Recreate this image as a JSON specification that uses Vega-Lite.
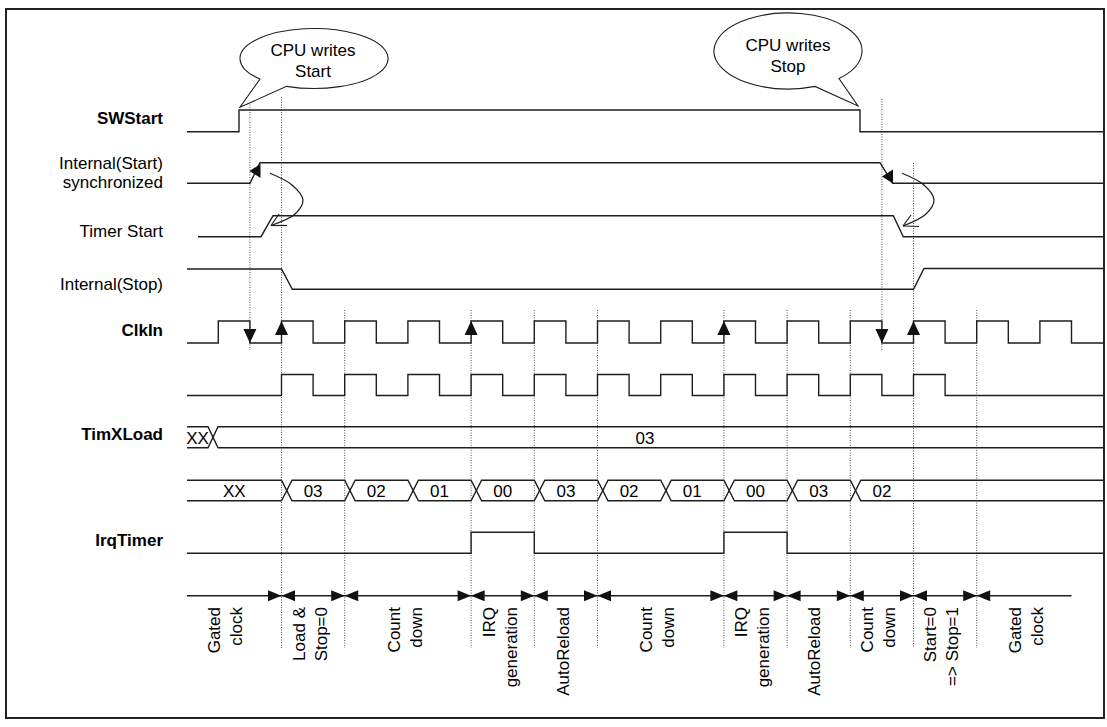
{
  "$schema": "https://vega.github.io/schema/vega-lite/v6.json",
  "width": 1107,
  "height": 727,
  "padding": 0,
  "autosize": {"type": "none"},
  "background": "white",
  "config": {"view": {"stroke": null}},
  "resolve": {"scale": {"shape": "independent"}},
  "datasets": {
    "frame": [{"x": 6, "y": 9, "x2": 1104, "y2": 718}],
    "dots": [
      {"x": 249.9, "y": 97, "y2": 350},
      {"x": 281.5, "y": 97, "y2": 648},
      {"x": 344.7, "y": 310, "y2": 648},
      {"x": 471.1, "y": 310, "y2": 648},
      {"x": 534.3, "y": 310, "y2": 648},
      {"x": 597.5, "y": 310, "y2": 648},
      {"x": 723.9, "y": 310, "y2": 648},
      {"x": 787.1, "y": 310, "y2": 648},
      {"x": 850.3, "y": 310, "y2": 648},
      {"x": 881.9, "y": 99, "y2": 350},
      {"x": 913.5, "y": 163, "y2": 648},
      {"x": 976.7, "y": 310, "y2": 648}
    ],
    "waves": [
      {"s": "SWStart", "x": 187, "y": 131.7}, {"s": "SWStart", "x": 239, "y": 131.7}, {"s": "SWStart", "x": 239, "y": 110}, {"s": "SWStart", "x": 860, "y": 110}, {"s": "SWStart", "x": 860, "y": 131.7}, {"s": "SWStart", "x": 1103, "y": 131.7},
      {"s": "IntStart", "x": 187, "y": 183.3}, {"s": "IntStart", "x": 250, "y": 183.3}, {"s": "IntStart", "x": 260, "y": 162.7}, {"s": "IntStart", "x": 880, "y": 162.7}, {"s": "IntStart", "x": 892.7, "y": 183.3}, {"s": "IntStart", "x": 1103, "y": 183.3},
      {"s": "TimerStart", "x": 198, "y": 236.7}, {"s": "TimerStart", "x": 261, "y": 236.7}, {"s": "TimerStart", "x": 273, "y": 215.7}, {"s": "TimerStart", "x": 893.3, "y": 215.7}, {"s": "TimerStart", "x": 903.3, "y": 236.7}, {"s": "TimerStart", "x": 1103, "y": 236.7},
      {"s": "IntStop", "x": 187, "y": 269}, {"s": "IntStop", "x": 281.5, "y": 269}, {"s": "IntStop", "x": 292.3, "y": 289.3}, {"s": "IntStop", "x": 913.5, "y": 289.3}, {"s": "IntStop", "x": 924, "y": 268.5}, {"s": "IntStop", "x": 1103, "y": 268.5},
      {"s": "ClkIn", "x": 187, "y": 343}, {"s": "ClkIn", "x": 218.3, "y": 343}, {"s": "ClkIn", "x": 218.3, "y": 321}, {"s": "ClkIn", "x": 249.9, "y": 321}, {"s": "ClkIn", "x": 249.9, "y": 343},
      {"s": "ClkIn", "x": 281.5, "y": 343}, {"s": "ClkIn", "x": 281.5, "y": 321}, {"s": "ClkIn", "x": 313.1, "y": 321}, {"s": "ClkIn", "x": 313.1, "y": 343},
      {"s": "ClkIn", "x": 344.7, "y": 343}, {"s": "ClkIn", "x": 344.7, "y": 321}, {"s": "ClkIn", "x": 376.3, "y": 321}, {"s": "ClkIn", "x": 376.3, "y": 343},
      {"s": "ClkIn", "x": 407.9, "y": 343}, {"s": "ClkIn", "x": 407.9, "y": 321}, {"s": "ClkIn", "x": 439.5, "y": 321}, {"s": "ClkIn", "x": 439.5, "y": 343},
      {"s": "ClkIn", "x": 471.1, "y": 343}, {"s": "ClkIn", "x": 471.1, "y": 321}, {"s": "ClkIn", "x": 502.7, "y": 321}, {"s": "ClkIn", "x": 502.7, "y": 343},
      {"s": "ClkIn", "x": 534.3, "y": 343}, {"s": "ClkIn", "x": 534.3, "y": 321}, {"s": "ClkIn", "x": 565.9, "y": 321}, {"s": "ClkIn", "x": 565.9, "y": 343},
      {"s": "ClkIn", "x": 597.5, "y": 343}, {"s": "ClkIn", "x": 597.5, "y": 321}, {"s": "ClkIn", "x": 629.1, "y": 321}, {"s": "ClkIn", "x": 629.1, "y": 343},
      {"s": "ClkIn", "x": 660.7, "y": 343}, {"s": "ClkIn", "x": 660.7, "y": 321}, {"s": "ClkIn", "x": 692.3, "y": 321}, {"s": "ClkIn", "x": 692.3, "y": 343},
      {"s": "ClkIn", "x": 723.9, "y": 343}, {"s": "ClkIn", "x": 723.9, "y": 321}, {"s": "ClkIn", "x": 755.5, "y": 321}, {"s": "ClkIn", "x": 755.5, "y": 343},
      {"s": "ClkIn", "x": 787.1, "y": 343}, {"s": "ClkIn", "x": 787.1, "y": 321}, {"s": "ClkIn", "x": 818.7, "y": 321}, {"s": "ClkIn", "x": 818.7, "y": 343},
      {"s": "ClkIn", "x": 850.3, "y": 343}, {"s": "ClkIn", "x": 850.3, "y": 321}, {"s": "ClkIn", "x": 881.9, "y": 321}, {"s": "ClkIn", "x": 881.9, "y": 343},
      {"s": "ClkIn", "x": 913.5, "y": 343}, {"s": "ClkIn", "x": 913.5, "y": 321}, {"s": "ClkIn", "x": 945.1, "y": 321}, {"s": "ClkIn", "x": 945.1, "y": 343},
      {"s": "ClkIn", "x": 976.7, "y": 343}, {"s": "ClkIn", "x": 976.7, "y": 321}, {"s": "ClkIn", "x": 1008.3, "y": 321}, {"s": "ClkIn", "x": 1008.3, "y": 343},
      {"s": "ClkIn", "x": 1039.9, "y": 343}, {"s": "ClkIn", "x": 1039.9, "y": 321}, {"s": "ClkIn", "x": 1071.5, "y": 321}, {"s": "ClkIn", "x": 1071.5, "y": 343}, {"s": "ClkIn", "x": 1103, "y": 343},
      {"s": "Gated", "x": 187, "y": 395.5},
      {"s": "Gated", "x": 281.5, "y": 395.5}, {"s": "Gated", "x": 281.5, "y": 374.5}, {"s": "Gated", "x": 313.1, "y": 374.5}, {"s": "Gated", "x": 313.1, "y": 395.5},
      {"s": "Gated", "x": 344.7, "y": 395.5}, {"s": "Gated", "x": 344.7, "y": 374.5}, {"s": "Gated", "x": 376.3, "y": 374.5}, {"s": "Gated", "x": 376.3, "y": 395.5},
      {"s": "Gated", "x": 407.9, "y": 395.5}, {"s": "Gated", "x": 407.9, "y": 374.5}, {"s": "Gated", "x": 439.5, "y": 374.5}, {"s": "Gated", "x": 439.5, "y": 395.5},
      {"s": "Gated", "x": 471.1, "y": 395.5}, {"s": "Gated", "x": 471.1, "y": 374.5}, {"s": "Gated", "x": 502.7, "y": 374.5}, {"s": "Gated", "x": 502.7, "y": 395.5},
      {"s": "Gated", "x": 534.3, "y": 395.5}, {"s": "Gated", "x": 534.3, "y": 374.5}, {"s": "Gated", "x": 565.9, "y": 374.5}, {"s": "Gated", "x": 565.9, "y": 395.5},
      {"s": "Gated", "x": 597.5, "y": 395.5}, {"s": "Gated", "x": 597.5, "y": 374.5}, {"s": "Gated", "x": 629.1, "y": 374.5}, {"s": "Gated", "x": 629.1, "y": 395.5},
      {"s": "Gated", "x": 660.7, "y": 395.5}, {"s": "Gated", "x": 660.7, "y": 374.5}, {"s": "Gated", "x": 692.3, "y": 374.5}, {"s": "Gated", "x": 692.3, "y": 395.5},
      {"s": "Gated", "x": 723.9, "y": 395.5}, {"s": "Gated", "x": 723.9, "y": 374.5}, {"s": "Gated", "x": 755.5, "y": 374.5}, {"s": "Gated", "x": 755.5, "y": 395.5},
      {"s": "Gated", "x": 787.1, "y": 395.5}, {"s": "Gated", "x": 787.1, "y": 374.5}, {"s": "Gated", "x": 818.7, "y": 374.5}, {"s": "Gated", "x": 818.7, "y": 395.5},
      {"s": "Gated", "x": 850.3, "y": 395.5}, {"s": "Gated", "x": 850.3, "y": 374.5}, {"s": "Gated", "x": 881.9, "y": 374.5}, {"s": "Gated", "x": 881.9, "y": 395.5},
      {"s": "Gated", "x": 913.5, "y": 395.5}, {"s": "Gated", "x": 913.5, "y": 374.5}, {"s": "Gated", "x": 945.1, "y": 374.5}, {"s": "Gated", "x": 945.1, "y": 395.5},
      {"s": "Gated", "x": 1103, "y": 395.5},
      {"s": "LoadA", "x": 187, "y": 426.7}, {"s": "LoadA", "x": 208, "y": 426.7}, {"s": "LoadA", "x": 218, "y": 447.7}, {"s": "LoadA", "x": 1103, "y": 447.7},
      {"s": "LoadB", "x": 187, "y": 447.7}, {"s": "LoadB", "x": 208, "y": 447.7}, {"s": "LoadB", "x": 218, "y": 426.7}, {"s": "LoadB", "x": 1103, "y": 426.7},
      {"s": "CntA", "x": 187, "y": 480.3}, {"s": "CntA", "x": 281.5, "y": 480.3}, {"s": "CntA", "x": 292, "y": 500.7}, {"s": "CntA", "x": 344.7, "y": 500.7}, {"s": "CntA", "x": 355.2, "y": 480.3}, {"s": "CntA", "x": 407.9, "y": 480.3}, {"s": "CntA", "x": 418.4, "y": 500.7}, {"s": "CntA", "x": 471.1, "y": 500.7}, {"s": "CntA", "x": 481.6, "y": 480.3}, {"s": "CntA", "x": 534.3, "y": 480.3}, {"s": "CntA", "x": 544.8, "y": 500.7}, {"s": "CntA", "x": 597.5, "y": 500.7}, {"s": "CntA", "x": 608, "y": 480.3}, {"s": "CntA", "x": 660.7, "y": 480.3}, {"s": "CntA", "x": 671.2, "y": 500.7}, {"s": "CntA", "x": 723.9, "y": 500.7}, {"s": "CntA", "x": 734.4, "y": 480.3}, {"s": "CntA", "x": 787.1, "y": 480.3}, {"s": "CntA", "x": 797.6, "y": 500.7}, {"s": "CntA", "x": 850.3, "y": 500.7}, {"s": "CntA", "x": 860.8, "y": 480.3}, {"s": "CntA", "x": 1103, "y": 480.3},
      {"s": "CntB", "x": 187, "y": 500.7}, {"s": "CntB", "x": 281.5, "y": 500.7}, {"s": "CntB", "x": 292, "y": 480.3}, {"s": "CntB", "x": 344.7, "y": 480.3}, {"s": "CntB", "x": 355.2, "y": 500.7}, {"s": "CntB", "x": 407.9, "y": 500.7}, {"s": "CntB", "x": 418.4, "y": 480.3}, {"s": "CntB", "x": 471.1, "y": 480.3}, {"s": "CntB", "x": 481.6, "y": 500.7}, {"s": "CntB", "x": 534.3, "y": 500.7}, {"s": "CntB", "x": 544.8, "y": 480.3}, {"s": "CntB", "x": 597.5, "y": 480.3}, {"s": "CntB", "x": 608, "y": 500.7}, {"s": "CntB", "x": 660.7, "y": 500.7}, {"s": "CntB", "x": 671.2, "y": 480.3}, {"s": "CntB", "x": 723.9, "y": 480.3}, {"s": "CntB", "x": 734.4, "y": 500.7}, {"s": "CntB", "x": 787.1, "y": 500.7}, {"s": "CntB", "x": 797.6, "y": 480.3}, {"s": "CntB", "x": 850.3, "y": 480.3}, {"s": "CntB", "x": 860.8, "y": 500.7}, {"s": "CntB", "x": 1103, "y": 500.7},
      {"s": "Irq", "x": 187, "y": 553.3}, {"s": "Irq", "x": 471.1, "y": 553.3}, {"s": "Irq", "x": 471.1, "y": 532.3}, {"s": "Irq", "x": 534.3, "y": 532.3}, {"s": "Irq", "x": 534.3, "y": 553.3}, {"s": "Irq", "x": 723.9, "y": 553.3}, {"s": "Irq", "x": 723.9, "y": 532.3}, {"s": "Irq", "x": 787.1, "y": 532.3}, {"s": "Irq", "x": 787.1, "y": 553.3}, {"s": "Irq", "x": 1103, "y": 553.3},
      {"s": "Phase", "x": 187, "y": 595.7}, {"s": "Phase", "x": 1071.5, "y": 595.7}
    ],
    "curves": [
      {"a": "start", "x": 270, "y": 173.3}, {"a": "start", "x": 292, "y": 185}, {"a": "start", "x": 303, "y": 200}, {"a": "start", "x": 295, "y": 214}, {"a": "start", "x": 271, "y": 225.5},
      {"a": "stop", "x": 902, "y": 173.3}, {"a": "stop", "x": 924, "y": 185}, {"a": "stop", "x": 934, "y": 200}, {"a": "stop", "x": 926, "y": 214}, {"a": "stop", "x": 903, "y": 226}
    ],
    "segs": [
      {"x": 271, "y": 225.5, "x2": 279, "y2": 214},
      {"x": 271, "y": 225.5, "x2": 287, "y2": 225.5},
      {"x": 903, "y": 226, "x2": 911, "y2": 215},
      {"x": 903, "y": 226, "x2": 919, "y2": 226.5}
    ],
    "marks": [
      {"k": "up", "x": 281.5, "y": 321}, {"k": "up", "x": 471.1, "y": 321}, {"k": "up", "x": 723.9, "y": 321}, {"k": "up", "x": 913.5, "y": 321},
      {"k": "down", "x": 249.9, "y": 343}, {"k": "down", "x": 881.9, "y": 343},
      {"k": "sync", "x": 249.5, "y": 171}, {"k": "sync", "x": 882, "y": 176.5},
      {"k": "right", "x": 281.5, "y": 595.7}, {"k": "left", "x": 281.5, "y": 595.7},
      {"k": "right", "x": 344.7, "y": 595.7}, {"k": "left", "x": 344.7, "y": 595.7},
      {"k": "right", "x": 471.1, "y": 595.7}, {"k": "left", "x": 471.1, "y": 595.7},
      {"k": "right", "x": 534.3, "y": 595.7}, {"k": "left", "x": 534.3, "y": 595.7},
      {"k": "right", "x": 597.5, "y": 595.7}, {"k": "left", "x": 597.5, "y": 595.7},
      {"k": "right", "x": 723.9, "y": 595.7}, {"k": "left", "x": 723.9, "y": 595.7},
      {"k": "right", "x": 787.1, "y": 595.7}, {"k": "left", "x": 787.1, "y": 595.7},
      {"k": "right", "x": 850.3, "y": 595.7}, {"k": "left", "x": 850.3, "y": 595.7},
      {"k": "right", "x": 913.5, "y": 595.7}, {"k": "left", "x": 913.5, "y": 595.7},
      {"k": "right", "x": 976.7, "y": 595.7}, {"k": "left", "x": 976.7, "y": 595.7}
    ],
    "bubbles": [
      {"b": "start", "x": 314, "y": 58.5},
      {"b": "stop", "x": 788, "y": 51}
    ],
    "bubbleText": [
      {"t": "CPU writes\nStart", "x": 313, "y": 56},
      {"t": "CPU writes\nStop", "x": 788, "y": 51}
    ],
    "boldLabels": [
      {"t": "SWStart", "x": 163, "y": 124},
      {"t": "ClkIn", "x": 163, "y": 336},
      {"t": "TimXLoad", "x": 163, "y": 440},
      {"t": "IrqTimer", "x": 163, "y": 546}
    ],
    "regLabels": [
      {"t": "Internal(Start)\nsynchronized", "x": 163, "y": 169},
      {"t": "Timer Start", "x": 163, "y": 236.5},
      {"t": "Internal(Stop)", "x": 163, "y": 290}
    ],
    "busValues": [
      {"t": "XX", "x": 197.5, "y": 439},
      {"t": "03", "x": 645, "y": 439},
      {"t": "XX", "x": 234.3, "y": 491.5},
      {"t": "03", "x": 313.1, "y": 491.5},
      {"t": "02", "x": 376.3, "y": 491.5},
      {"t": "01", "x": 439.5, "y": 491.5},
      {"t": "00", "x": 502.7, "y": 491.5},
      {"t": "03", "x": 565.9, "y": 491.5},
      {"t": "02", "x": 629.1, "y": 491.5},
      {"t": "01", "x": 692.3, "y": 491.5},
      {"t": "00", "x": 755.5, "y": 491.5},
      {"t": "03", "x": 818.7, "y": 491.5},
      {"t": "02", "x": 881.9, "y": 491.5}
    ],
    "phases": [
      {"t": "Gated\nclock", "x": 215, "y": 607},
      {"t": "Load &\nStop=0", "x": 299.5, "y": 607},
      {"t": "Count\ndown", "x": 394.5, "y": 607},
      {"t": "IRQ\ngeneration", "x": 489.5, "y": 607},
      {"t": "AutoReload", "x": 564, "y": 607},
      {"t": "Count\ndown", "x": 647, "y": 607},
      {"t": "IRQ\ngeneration", "x": 742, "y": 607},
      {"t": "AutoReload", "x": 815, "y": 607},
      {"t": "Count\ndown", "x": 868, "y": 607},
      {"t": "Start=0\n=> Stop=1", "x": 931, "y": 607},
      {"t": "Gated\nclock", "x": 1016, "y": 607}
    ]
  },
  "encoding": {
    "x": {"field": "x", "type": "quantitative", "scale": {"domain": [0, 1107], "nice": false, "zero": false}, "axis": null},
    "y": {"field": "y", "type": "quantitative", "scale": {"domain": [0, 727], "nice": false, "zero": false, "reverse": true}, "axis": null}
  },
  "layer": [
    {
      "data": {"name": "frame"},
      "mark": {"type": "rect", "fillOpacity": 0, "stroke": "#222", "strokeWidth": 2},
      "encoding": {"x2": {"field": "x2"}, "y2": {"field": "y2"}}
    },
    {
      "data": {"name": "dots"},
      "mark": {"type": "rule", "color": "#555", "strokeWidth": 1, "strokeDash": [1, 1.5]},
      "encoding": {"y2": {"field": "y2"}}
    },
    {
      "data": {"name": "waves"},
      "mark": {"type": "line", "color": "#1e1e1e", "strokeWidth": 1.4},
      "encoding": {"detail": {"field": "s"}, "order": {"value": null}}
    },
    {
      "data": {"name": "curves"},
      "mark": {"type": "line", "color": "#1e1e1e", "strokeWidth": 1.2, "interpolate": "catmull-rom"},
      "encoding": {"detail": {"field": "a"}, "order": {"value": null}}
    },
    {
      "data": {"name": "segs"},
      "mark": {"type": "rule", "color": "#1e1e1e", "strokeWidth": 1.2},
      "encoding": {"x2": {"field": "x2"}, "y2": {"field": "y2"}}
    },
    {
      "data": {"name": "marks"},
      "mark": {"type": "point", "filled": true, "size": 4, "opacity": 1, "color": "#111", "strokeWidth": 0},
      "encoding": {
        "shape": {
          "field": "k", "type": "nominal", "legend": null,
          "scale": {
            "domain": ["up", "down", "right", "left", "sync"],
            "range": [
              "M 0,0 L 6.5,14 L -6.5,14 Z",
              "M 0,0 L 6.5,-14 L -6.5,-14 Z",
              "M 0,0 L -13.5,-5.5 L -13.5,5.5 Z",
              "M 0,0 L 13.5,-5.5 L 13.5,5.5 Z",
              "M 0,0 L 11,-7 L 11,7 Z"
            ]
          }
        }
      }
    },
    {
      "data": {"name": "bubbles"},
      "mark": {"type": "point", "filled": true, "size": 21904, "opacity": 1, "fill": "white", "stroke": "#1e1e1e", "strokeWidth": 1.1},
      "encoding": {
        "shape": {
          "field": "b", "type": "nominal", "legend": null,
          "scale": {
            "domain": ["start", "stop"],
            "range": [
              "M -0.3701,0.3762 C 0.1037,0.4527 0.6434,0.3726 0.8829,0.1902 C 1.1224,0.0078 0.9848,-0.2182 0.5635,-0.3346 C 0.1422,-0.451 -0.4276,-0.4203 -0.7594,-0.2635 C -1.0912,-0.1066 -1.0787,0.1259 -0.7302,0.2767 L -1,0.659 Z",
              "M 0.6892,0.3724 C 1.0623,0.19 1.105,-0.108 0.7879,-0.3165 C 0.4708,-0.5251 -0.1028,-0.5757 -0.5371,-0.4336 C -0.9714,-0.2914 -1.1249,-0.003 -0.8915,0.2329 C -0.6581,0.4689 -0.1144,0.5751 0.365,0.4785 L 0.946,0.743 Z"
            ]
          }
        }
      }
    },
    {
      "data": {"name": "bubbleText"},
      "mark": {"type": "text", "font": "Liberation Sans", "fontSize": 17, "align": "center", "baseline": "alphabetic", "lineBreak": "\n", "lineHeight": 21, "color": "#000"},
      "encoding": {"text": {"field": "t"}}
    },
    {
      "data": {"name": "boldLabels"},
      "mark": {"type": "text", "font": "Liberation Sans", "fontSize": 17, "fontWeight": "bold", "align": "right", "baseline": "alphabetic", "color": "#000"},
      "encoding": {"text": {"field": "t"}}
    },
    {
      "data": {"name": "regLabels"},
      "mark": {"type": "text", "font": "Liberation Sans", "fontSize": 17, "align": "right", "baseline": "alphabetic", "lineBreak": "\n", "lineHeight": 19, "color": "#000"},
      "encoding": {"text": {"field": "t"}}
    },
    {
      "data": {"name": "busValues"},
      "mark": {"type": "text", "font": "Liberation Sans", "fontSize": 17, "align": "center", "baseline": "middle", "color": "#000"},
      "encoding": {"text": {"field": "t"}}
    },
    {
      "data": {"name": "phases"},
      "mark": {"type": "text", "font": "Liberation Sans", "fontSize": 17, "angle": 270, "align": "right", "baseline": "middle", "lineBreak": "\n", "lineHeight": 22, "color": "#000"},
      "encoding": {"text": {"field": "t"}}
    }
  ]
}
